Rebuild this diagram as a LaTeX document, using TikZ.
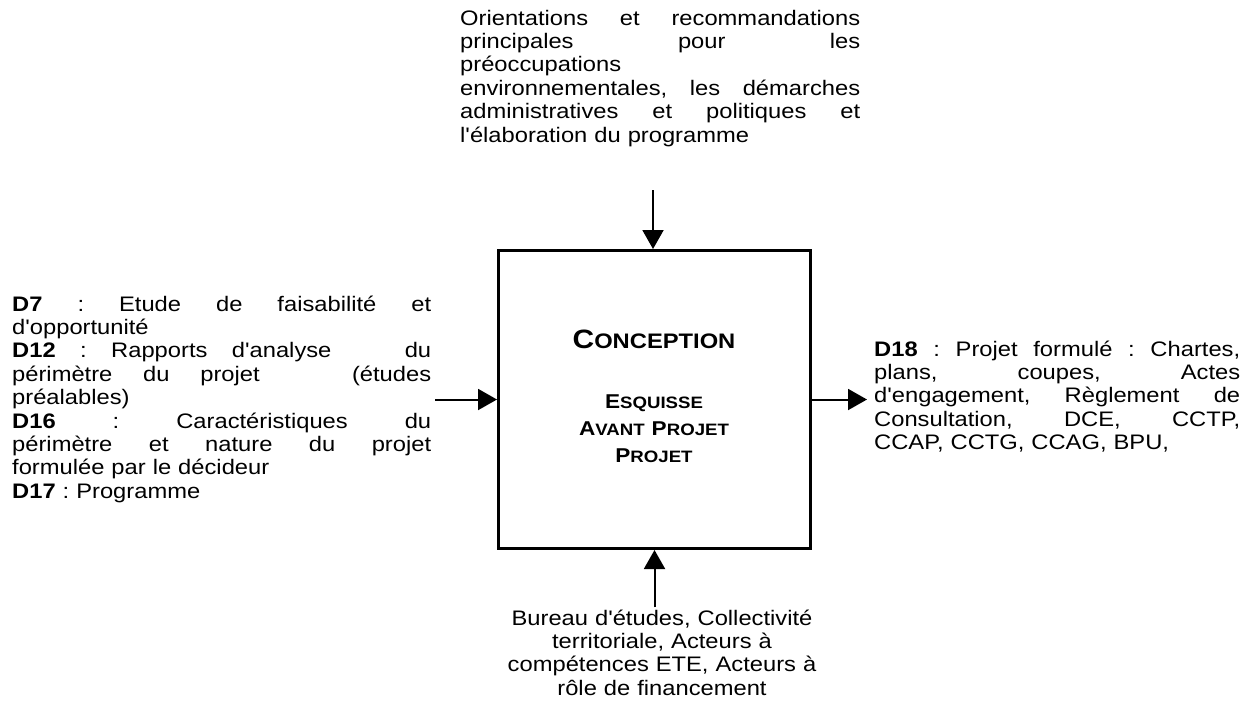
\documentclass[tikz,border=0pt]{standalone}
\usepackage{fontspec}
\setmainfont{Liberation Sans}[FakeStretch=1.13, Ligatures=TeXOff]
\usetikzlibrary{arrows.meta}
\frenchspacing
% one justified line of a given width
\newcommand{\jline}[2]{\makebox[#1][s]{\spaceskip=\fontdimen2\font plus 1fil\relax #2}}
\newcommand{\titlesc}[2]{{\fontsize{26.5}{28}\selectfont #1}{\fontsize{21}{28}\selectfont #2}}
\newcommand{\stagesc}[2]{{\fontsize{20}{27}\selectfont #1}{\fontsize{16.5}{27}\selectfont #2}}

\begin{document}
\begin{tikzpicture}[x=1pt, y=-1pt, font=\fontsize{21}{23.4}\selectfont]
  \tikzset{
    procbox/.style={draw, line width=3pt, minimum width=312pt, minimum height=298pt, inner sep=0pt},
    flow/.style={line width=2pt, -{Triangle[length=19pt, width=21pt]}},
    lbl/.style={inner sep=0pt, align=left},
    stage/.style={inner sep=0pt, font=\bfseries}}
  \useasboundingbox (0,0) rectangle (1244,721);

  % --- the activity box
  \node[procbox] (conc) at (654.5,399.5) {};
  \node[stage, anchor=base] (ttl) at (654,348) {\titlesc{C}{ONCEPTION}};
  \node[stage, anchor=base] (st1) at (654,408) {\stagesc{E}{SQUISSE}};
  \node[stage, anchor=base] (st2) at (654,435) {\stagesc{A}{VANT}\hspace{7pt}\stagesc{P}{ROJET}};
  \node[stage, anchor=base] (st3) at (654,462) {\stagesc{P}{ROJET}};

  % --- inputs, controls, outputs, means
  \node[lbl, text width=419pt, anchor=base west] (inp) at (12,311)
    {\jline{419pt}{\textbf{D7} : Etude de faisabilité et}\\
     d'opportunité\\
     \jline{419pt}{\textbf{D12} : Rapports d'analyse\ \ \ du}\\
     \jline{419pt}{périmètre du projet\ \ \ (études}\\
     préalables)\\
     \jline{419pt}{\textbf{D16} : Caractéristiques du}\\
     \jline{419pt}{périmètre et nature du projet}\\
     formulée par le décideur\\
     \textbf{D17} : Programme};

  \node[lbl, text width=400pt, anchor=base west] (ctrl) at (460,25)
    {\jline{400pt}{Orientations et recommandations}\\
     \jline{400pt}{principales pour les}\\
     préoccupations\\
     \jline{400pt}{environnementales, les démarches}\\
     \jline{400pt}{administratives et politiques et}\\
     l'élaboration du programme};

  \node[lbl, text width=366pt, anchor=base west] (outp) at (874,356)
    {\jline{366pt}{\textbf{D18} : Projet formulé : Chartes,}\\
     \jline{366pt}{plans, coupes, Actes}\\
     \jline{366pt}{d'engagement, Règlement de}\\
     \jline{366pt}{Consultation, DCE, CCTP,}\\
     CCAP, CCTG, CCAG, BPU,};

  \node[lbl, text width=330pt, align=center, anchor=base] (mech) at (662,625)
    {Bureau d'études, Collectivité\\
     territoriale, Acteurs à\\
     compétences ETE, Acteurs à\\
     rôle de financement};

  % --- arrows
  \coordinate (ctrl-tail) at (653,190);
  \draw[flow] (ctrl-tail) -- (ctrl-tail |- conc.north);
  \draw[flow, shorten <=4pt] (inp.east |- conc.west) -- (conc.west);
  \draw[flow, shorten >=7pt] (conc.east) -- (outp.west |- conc.east);
  \draw[flow, shorten <=2pt] (mech.north -| conc.south) -- (conc.south);
\end{tikzpicture}
\end{document}
